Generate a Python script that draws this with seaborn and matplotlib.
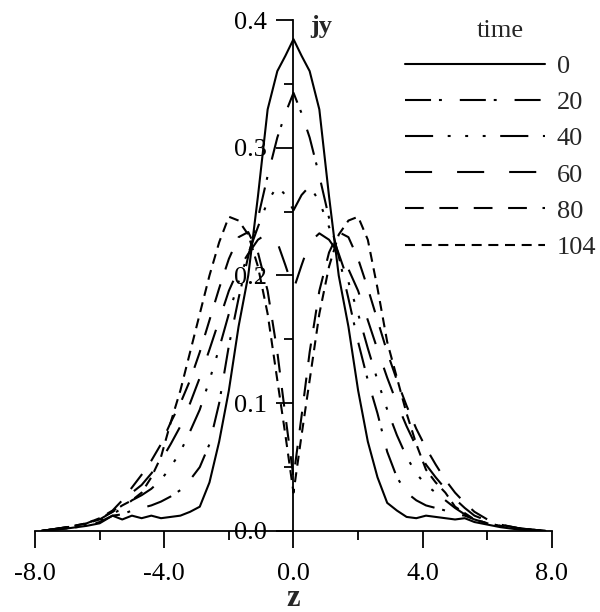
import matplotlib
matplotlib.use("Agg")
import matplotlib.pyplot as plt
from matplotlib.lines import Line2D
import numpy as np
import pandas as pd
import seaborn as sns

# ---------------- data ----------------
Z = [-7.8, -7.0, -6.4, -6.0, -5.6, -5.3, -5.0, -4.7, -4.4, -4.1, -3.8, -3.5,
     -3.2, -2.9, -2.6, -2.3, -2.0, -1.7, -1.4, -1.1, -0.8, -0.5, -0.25, 0.0,
     0.25, 0.5, 0.8, 1.1, 1.4, 1.7, 2.0, 2.3, 2.6, 2.9, 3.2, 3.5, 3.8, 4.1,
     4.4, 4.7, 5.0, 5.3, 5.6, 6.0, 6.4, 7.0, 7.8]

J_T0 = [0.000, 0.002, 0.004, 0.006, 0.012, 0.009, 0.012, 0.010, 0.012, 0.010, 0.011, 0.012,
        0.015, 0.019, 0.038, 0.070, 0.110, 0.160, 0.200, 0.262, 0.330, 0.360, 0.372, 0.385,
        0.372, 0.360, 0.330, 0.262, 0.200, 0.160, 0.110, 0.070, 0.042, 0.022, 0.016, 0.011,
        0.010, 0.012, 0.011, 0.010, 0.009, 0.010, 0.007, 0.005, 0.003, 0.001, 0.000]
J_T20 = [0.000, 0.002, 0.004, 0.007, 0.012, 0.013, 0.016, 0.018, 0.020, 0.023, 0.027, 0.032,
         0.040, 0.050, 0.068, 0.100, 0.145, 0.182, 0.215, 0.245, 0.278, 0.308, 0.327, 0.343,
         0.327, 0.308, 0.278, 0.245, 0.215, 0.182, 0.148, 0.118, 0.092, 0.062, 0.042, 0.030,
         0.024, 0.020, 0.018, 0.016, 0.013, 0.012, 0.009, 0.006, 0.004, 0.002, 0.000]
J_T40 = [0.000, 0.003, 0.005, 0.008, 0.013, 0.018, 0.024, 0.028, 0.033, 0.040, 0.050, 0.062,
         0.078, 0.095, 0.118, 0.143, 0.170, 0.195, 0.217, 0.238, 0.258, 0.270, 0.263, 0.251,
         0.263, 0.270, 0.258, 0.238, 0.217, 0.195, 0.170, 0.143, 0.118, 0.095, 0.075, 0.058,
         0.045, 0.036, 0.030, 0.024, 0.018, 0.013, 0.009, 0.006, 0.004, 0.002, 0.000]
J_T60 = [0.000, 0.003, 0.006, 0.009, 0.015, 0.022, 0.030, 0.036, 0.045, 0.055, 0.068, 0.082,
         0.100, 0.120, 0.142, 0.165, 0.188, 0.205, 0.217, 0.228, 0.233, 0.226, 0.208, 0.189,
         0.208, 0.226, 0.233, 0.228, 0.217, 0.205, 0.188, 0.165, 0.142, 0.120, 0.100, 0.082,
         0.066, 0.052, 0.042, 0.033, 0.025, 0.018, 0.012, 0.008, 0.005, 0.002, 0.000]
J_T80 = [0.000, 0.003, 0.006, 0.010, 0.016, 0.024, 0.034, 0.044, 0.055, 0.068, 0.085, 0.100,
         0.118, 0.140, 0.165, 0.190, 0.213, 0.230, 0.234, 0.218, 0.188, 0.140, 0.090, 0.042,
         0.090, 0.140, 0.188, 0.218, 0.234, 0.230, 0.213, 0.190, 0.165, 0.140, 0.118, 0.098,
         0.080, 0.065, 0.052, 0.040, 0.030, 0.022, 0.015, 0.009, 0.005, 0.002, 0.000]
J_T104 = [0.000, 0.003, 0.006, 0.010, 0.015, 0.020, 0.024, 0.030, 0.042, 0.058, 0.085, 0.110,
          0.140, 0.170, 0.200, 0.226, 0.246, 0.243, 0.232, 0.207, 0.170, 0.118, 0.075, 0.030,
          0.075, 0.118, 0.170, 0.207, 0.232, 0.243, 0.246, 0.228, 0.190, 0.148, 0.120, 0.092,
          0.068, 0.048, 0.038, 0.030, 0.019, 0.014, 0.009, 0.006, 0.004, 0.002, 0.000]

TIMES = ["0", "20", "40", "60", "80", "104"]
SERIES = [J_T0, J_T20, J_T40, J_T60, J_T80, J_T104]

XTICKS = [-8.0, -4.0, 0.0, 4.0, 8.0]
XTICK_LABELS = ["-8.0", "-4.0", "0.0", "4.0", "8.0"]
XMINOR = [-6.0, -2.0, 2.0, 6.0]
YTICKS = [0.0, 0.1, 0.2, 0.3, 0.4]
YTICK_LABELS = ["0.0", "0.1", "0.2", "0.3", "0.4"]
YMINOR = [0.05, 0.15, 0.25, 0.35]

# ---------------- styling ----------------
sns.set_theme(style="white")
plt.rcParams["font.family"] = ["Liberation Serif", "DejaVu Serif"]

FS = 19
LW = 1.5
DASHES = {
    "0": "",
    "20": (12.5, 3.8, 1.4, 8.6),
    "40": (13.5, 7.0, 1.4, 7.0, 1.4, 7.0, 1.4, 7.0),
    "60": (13.0, 12.0),
    "80": (9.0, 7.5),
    "104": (4.8, 3.2),
}

df = pd.concat(
    [pd.DataFrame({"z": Z, "j": vals, "time": t}) for t, vals in zip(TIMES, SERIES)],
    ignore_index=True,
)

fig = plt.figure(figsize=(6.0, 6.12), dpi=100)
ax = fig.add_axes([0.0583, 0.1324, 0.8617, 0.8349])

sns.lineplot(data=df, x="z", y="j", style="time", style_order=TIMES,
             dashes=DASHES, color="black", linewidth=LW, estimator=None,
             sort=False, legend=False, ax=ax)

ax.set_xlim(-8, 8)
ax.set_ylim(0, 0.4)
ax.set_xlabel("")
ax.set_ylabel("")

for s in ["top", "right"]:
    ax.spines[s].set_visible(False)
ax.spines["left"].set_position(("data", 0))
ax.spines["bottom"].set_position(("data", 0))
ax.spines["left"].set_bounds(0, 0.4)
ax.spines["bottom"].set_bounds(-8, 8)
for s in ["left", "bottom"]:
    ax.spines[s].set_color("black")
    ax.spines[s].set_linewidth(1.3)

ax.set_xticks(XTICKS)
ax.set_xticklabels(XTICK_LABELS)
ax.set_xticks(XMINOR, minor=True)
ax.set_yticks(YTICKS)
ax.set_yticklabels(YTICK_LABELS)
ax.set_yticks(YMINOR, minor=True)
ax.tick_params(axis="both", which="both", bottom=True, left=True, top=False, right=False)
ax.tick_params(axis="both", which="major", direction="out", length=12, width=1.3,
               color="black", labelsize=FS, labelcolor="black")
ax.tick_params(axis="both", which="minor", direction="out", length=6.5, width=1.3,
               color="black")
ax.tick_params(axis="x", which="major", pad=11)
ax.tick_params(axis="y", which="major", pad=7)
ax.grid(False)
ax.set_facecolor("white")

ax.text(0, -0.0525, "z", ha="center", va="center", fontsize=22, fontweight="bold")
ax.text(0.52, 0.390, "jy", ha="left", va="baseline", fontsize=19, fontweight="bold")

handles = [Line2D([], [], color="black", linewidth=LW, dashes=DASHES[t]) if DASHES[t]
           else Line2D([], [], color="black", linewidth=LW) for t in TIMES]
leg = ax.legend(handles, TIMES, title="time", loc="upper left",
                bbox_to_anchor=(405 / 600, 1 - 20 / 612), bbox_transform=fig.transFigure,
                frameon=False, fontsize=FS, title_fontsize=FS, handlelength=5.3,
                handletextpad=0.45, labelspacing=0.48, borderpad=0, borderaxespad=0)

fig.savefig("out.png", dpi=100, facecolor="white")
